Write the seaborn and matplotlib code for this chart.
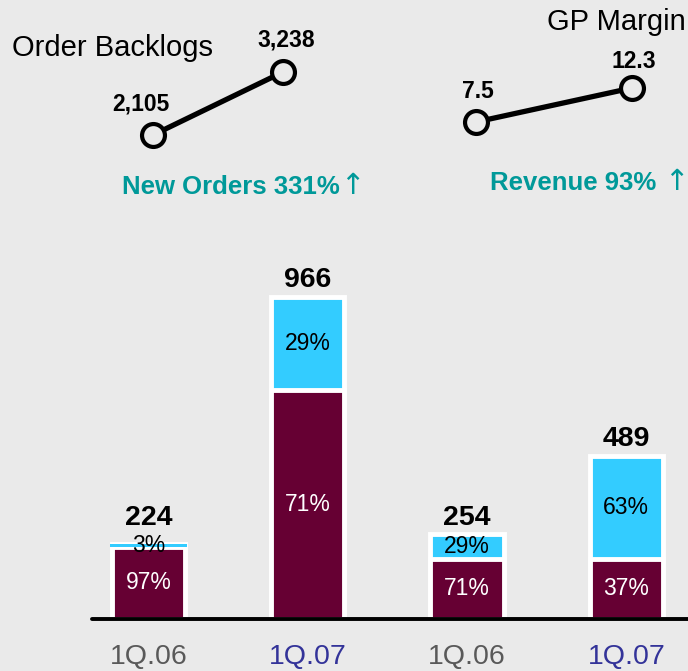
import matplotlib
matplotlib.use("Agg")
import matplotlib.pyplot as plt
import pandas as pd
import seaborn as sns

# bar data: new orders (left pair) and revenue (right pair)
groups = ["orders_1Q06", "orders_1Q07", "revenue_1Q06", "revenue_1Q07"]
quarters = ["1Q.06", "1Q.07", "1Q.06", "1Q.07"]
totals = [224, 966, 254, 489]
maroon_pct = [97, 71, 71, 37]
blue_pct = [3, 29, 29, 63]

# small line charts on top
line_x = [0, 1]
backlog = [2105, 3238]
backlog_labels = ["2,105", "3,238"]
gp_margin = [7.5, 12.3]
gp_labels = ["7.5", "12.3"]

BG = "#EAEAEA"
MAROON = "#660033"
BLUE = "#33CCFF"
TEAL = "#009999"
tick_colors = ["#595959", "#333399", "#595959", "#333399"]

sns.set_style("white", {"axes.facecolor": BG, "figure.facecolor": BG})
plt.rcParams["font.family"] = ["Liberation Sans", "DejaVu Sans"]
plt.rcParams["text.color"] = "black"

df = pd.DataFrame({"group": groups, "total": totals,
                   "maroon": [t * p / 100 for t, p in zip(totals, maroon_pct)]})
df["blue"] = df.total - df.maroon

fig = plt.figure(figsize=(6.88, 6.71), dpi=100)
W, H = 688, 671

# ---- stacked bars ----
ax = fig.add_axes([0, (H - 619) / H, 1, 389 / H])
sns.barplot(data=df, x="group", y="total", color=BLUE, saturation=1, width=0.46,
            edgecolor="white", linewidth=3.5, errorbar=None, ax=ax)
sns.barplot(data=df, x="group", y="maroon", color=MAROON, saturation=1, width=0.46,
            edgecolor="white", linewidth=3.5, errorbar=None, ax=ax)
# very thin blue slices would vanish under the white edges: redraw them plain
thin = df.blue.where(df.blue < 0.05 * df.total, 0)
ax.bar(range(len(df)), thin, bottom=df.maroon, width=0.48, color=BLUE, lw=0, zorder=4)

ax.set_xlim(-0.932, 3.387)
ax.set_ylim(0, 1167)
ax.axhline(0, xmin=92 / W, xmax=1, color="black", lw=2.8, zorder=5, clip_on=False)
for s in ax.spines.values():
    s.set_visible(False)
ax.set_xlabel("")
ax.set_ylabel("")
ax.set_yticks([])
ax.set_xticks(range(len(quarters)))
ax.set_xticklabels(quarters, fontsize=20.5)
for lab, c in zip(ax.get_xticklabels(), tick_colors):
    lab.set_color(c)
ax.tick_params(axis="x", length=0, pad=18)

total_offsets = [14, 7, 7, 7]
for i, row in df.iterrows():
    ax.annotate(f"{row.total:,}", (i, row.total), xytext=(0, total_offsets[i]),
                textcoords="offset points", ha="center", va="baseline",
                fontsize=20.5, fontweight="bold", color="black")
    ax.text(i, row.maroon / 2, f"{maroon_pct[i]}%", ha="center", va="center",
            fontsize=16.5, color="white")
    ax.text(i, (row.maroon + row.total) / 2, f"{blue_pct[i]}%", ha="center", va="center",
            fontsize=16.5, color="black", zorder=6)


# ---- small line charts ----
def small_line(pos, values, labels, offsets):
    lax = fig.add_axes(pos)
    sns.lineplot(x=line_x, y=values, color="black", lw=3.8, marker="o", markersize=16.5,
                 markerfacecolor=BG, markeredgecolor="black", markeredgewidth=3, ax=lax)
    lax.set_xlim(0, 1)
    lax.set_ylim(values[0], values[1])
    lax.axis("off")
    lax.patch.set_alpha(0)
    for ln in lax.lines:
        ln.set_clip_on(False)
    for x, y, t, off in zip(line_x, values, labels, offsets):
        lax.annotate(t, (x, y), xytext=off, textcoords="offset points", ha="center",
                     va="center", fontsize=16.5, fontweight="bold", color="black")


small_line([153 / W, (H - 135) / H, 130 / W, 63 / H], backlog, backlog_labels,
           [(-9, 22), (2, 23)])
small_line([476 / W, (H - 122) / H, 156 / W, 34 / H], gp_margin, gp_labels,
           [(1, 22), (1, 19)])

fig.text(12 / W, 1 - 48 / H, "Order Backlogs", ha="left", va="center", fontsize=21,
         color="black")
fig.text(686 / W, 1 - 22 / H, "GP Margin", ha="right", va="center", fontsize=21,
         color="black")

t1 = fig.text(122 / W, 1 - 187 / H, "New Orders 331%", ha="left", va="center",
              fontsize=18.5, fontweight="bold", color=TEAL)
t2 = fig.text(490 / W, 1 - 183 / H, "Revenue 93% ", ha="left", va="center",
              fontsize=18.5, fontweight="bold", color=TEAL)
for t in (t1, t2):
    fig.add_artist(plt.Annotation("↑", xy=(1, 0.5), xycoords=t, xytext=(0.5, 1),
                                  textcoords="offset points", ha="left", va="center",
                                  fontsize=21, color=TEAL, family=["DejaVu Sans"]))

fig.savefig("out.png", dpi=100, facecolor=BG)
